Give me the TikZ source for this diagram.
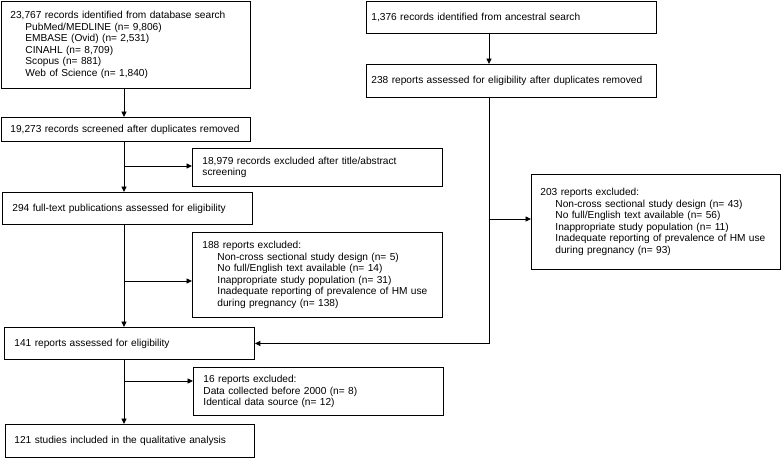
\documentclass[tikz,border=0pt]{standalone}
\usepackage{fontspec}
\setmainfont{Liberation Sans}
\usetikzlibrary{arrows.meta}
\tikzset{
  box/.style={draw, line width=0.9pt, anchor=north west, align=left, inner ysep=0pt,
    font=\fontsize{10.15}{11.5}\selectfont},
  conn/.style={line width=0.9pt},
  arr/.style={conn, -{Triangle[length=5.5pt,width=5pt]}},
}
\newcommand\ind{\hspace*{15pt}}
\begin{document}
\begin{tikzpicture}[x=1pt,y=-1pt]
\useasboundingbox (0,0) rectangle (781,458);
\coordinate (mainx) at (124,0);
\coordinate (rightx) at (489,0);
% left column
\node[box, inner xsep=9pt, minimum width=249pt, minimum height=87pt, text width=231pt] (A) at (1,1)
  {23,767 records identified from database search\\
   \ind PubMed/MEDLINE (n= 9,806)\\
   \ind EMBASE (Ovid) (n= 2,531)\\
   \ind CINAHL (n= 8,709)\\
   \ind Scopus (n= 881)\\
   \ind Web of Science (n= 1,840)};
\node[box, inner xsep=9pt, minimum width=249pt, minimum height=24pt, text width=231pt] (B) at (1,117)
  {19,273 records screened after duplicates removed};
\node[box, inner xsep=10pt, minimum width=250pt, minimum height=38pt, text width=230pt] (D) at (192,148)
  {18,979 records excluded after title/abstract\\screening};
\node[box, inner xsep=10pt, minimum width=250pt, minimum height=32pt, text width=230pt] (C) at (2,192)
  {294 full-text publications assessed for eligibility};
\node[box, inner xsep=10pt, minimum width=250pt, minimum height=85pt, text width=230pt] (E) at (192,232)
  {188 reports excluded:\\
   \ind Non-cross sectional study design (n= 5)\\
   \ind No full/English text available (n= 14)\\
   \ind Inappropriate study population (n= 31)\\
   \ind Inadequate reporting of prevalence of HM use\\
   \ind during pregnancy (n= 138)};
\node[box, inner xsep=10pt, minimum width=250pt, minimum height=32pt, text width=230pt] (F) at (4,327)
  {141 reports assessed for eligibility};
\node[box, inner xsep=10pt, minimum width=250pt, minimum height=48pt, text width=230pt] (G) at (193,367)
  {16 reports excluded:\\
   Data collected before 2000 (n= 8)\\
   Identical data source (n= 12)};
\node[box, inner xsep=9pt, minimum width=249pt, minimum height=33pt, text width=231pt] (H) at (5,424)
  {121 studies included in the qualitative analysis};
% right column
\node[box, inner xsep=5pt, minimum width=290pt, minimum height=32pt, text width=280pt] (I) at (366,1)
  {1,376 records identified from ancestral search};
\node[box, inner xsep=5pt, minimum width=290pt, minimum height=33pt, text width=280pt] (J) at (366,64)
  {238 reports assessed for eligibility after duplicates removed};
\node[box, inner xsep=9pt, minimum width=249pt, minimum height=95pt, text width=231pt] (K) at (531,174)
  {203 reports excluded:\\
   \ind Non-cross sectional study design (n= 43)\\
   \ind No full/English text available (n= 56)\\
   \ind Inappropriate study population (n= 11)\\
   \ind Inadequate reporting of prevalence of HM use\\
   \ind during pregnancy (n= 93)};
% connectors
\coordinate (b1) at (124,166);
\coordinate (b2) at (124,281);
\coordinate (b3) at (124,381);
\coordinate (b4) at (489,219);
\draw[arr] (A.south -| mainx) -- (B.north -| mainx);
\draw[arr] (B.south -| mainx) -- (C.north -| mainx);
\draw[arr] (b1) -- (b1 -| D.west);
\draw[arr] (C.south -| mainx) -- (F.north -| mainx);
\draw[arr] (b2) -- (b2 -| E.west);
\draw[arr] (F.south -| mainx) -- (H.north -| mainx);
\draw[arr] (b3) -- (b3 -| G.west);
\draw[arr] (I.south -| rightx) -- (J.north -| rightx);
\draw[arr] (J.south -| rightx) |- (F.east);
\draw[arr] (b4) -- (b4 -| K.west);
\end{tikzpicture}
\end{document}
